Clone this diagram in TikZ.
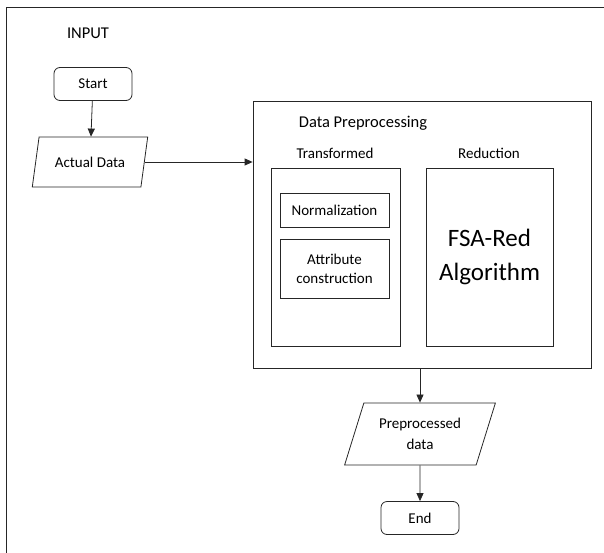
\documentclass[tikz,border=0pt]{standalone}
\usepackage{fontspec}
\setmainfont{Carlito}
\usepackage{tikz}
\usetikzlibrary{shapes.geometric,arrows.meta}

\begin{document}
\begin{tikzpicture}[x=1pt,y=-1pt,font=\fontsize{15}{20}\selectfont,
  line width=0.8pt, draw=black!85,
  flowline/.style={-{Triangle[length=8pt,width=7pt]}},
  term/.style={draw,rounded corners=6pt,minimum width=78pt,minimum height=33pt,inner sep=0pt},
  iobox/.style={draw,trapezium,trapezium left angle=66,trapezium right angle=114,trapezium stretches=true,inner sep=0pt,align=center},
  plainbox/.style={draw,inner sep=0pt,align=center},
  heading/.style={font=\fontsize{16.5}{20}\selectfont}]
\useasboundingbox (0,0) rectangle (604,553);

% frame
\draw (6,553) -- (6,7) -- (604,7);

\node[heading] (input) at (88,33) {INPUT};
\node[term] (start) at (93,84) {Start};
\node[iobox,minimum width=116pt,minimum height=50pt] (data) at (90,162) {Actual Data};

% preprocessing block
\node[plainbox,minimum width=338pt,minimum height=267pt] (prep) at (422,234.5) {};
\node[heading] (preptitle) at (363,123) {Data Preprocessing};
\node (transtitle) at (335,153) {Transformed};
\node (redtitle) at (489,153) {Reduction};
\node[plainbox,minimum width=129pt,minimum height=178pt] (trans) at (335.5,257) {};
\node[plainbox,minimum width=109pt,minimum height=34pt] (norm) at (334.5,210) {Normalization};
\node[plainbox,minimum width=109pt,minimum height=59pt,font=\fontsize{15}{19}\selectfont] (attr) at (334.5,268.5) {Attribute\\construction};
\node[plainbox,minimum width=127pt,minimum height=178pt,font=\fontsize{25}{34}\selectfont] (red) at (489.5,257) {FSA-Red\\Algorithm};

% output
\node[iobox,minimum width=151pt,minimum height=62pt,font=\fontsize{15}{21}\selectfont] (out) at (420,434) {Preprocessed\\data};
\node[term] (end) at (420,518) {End};

\draw[flowline] (start) -- (data);
\draw[flowline] (data.east) -- (data.east -| prep.west);
\draw[flowline] (prep.south -| out.north) -- (out.north);
\draw[flowline] (out) -- (end);
\end{tikzpicture}
\end{document}
